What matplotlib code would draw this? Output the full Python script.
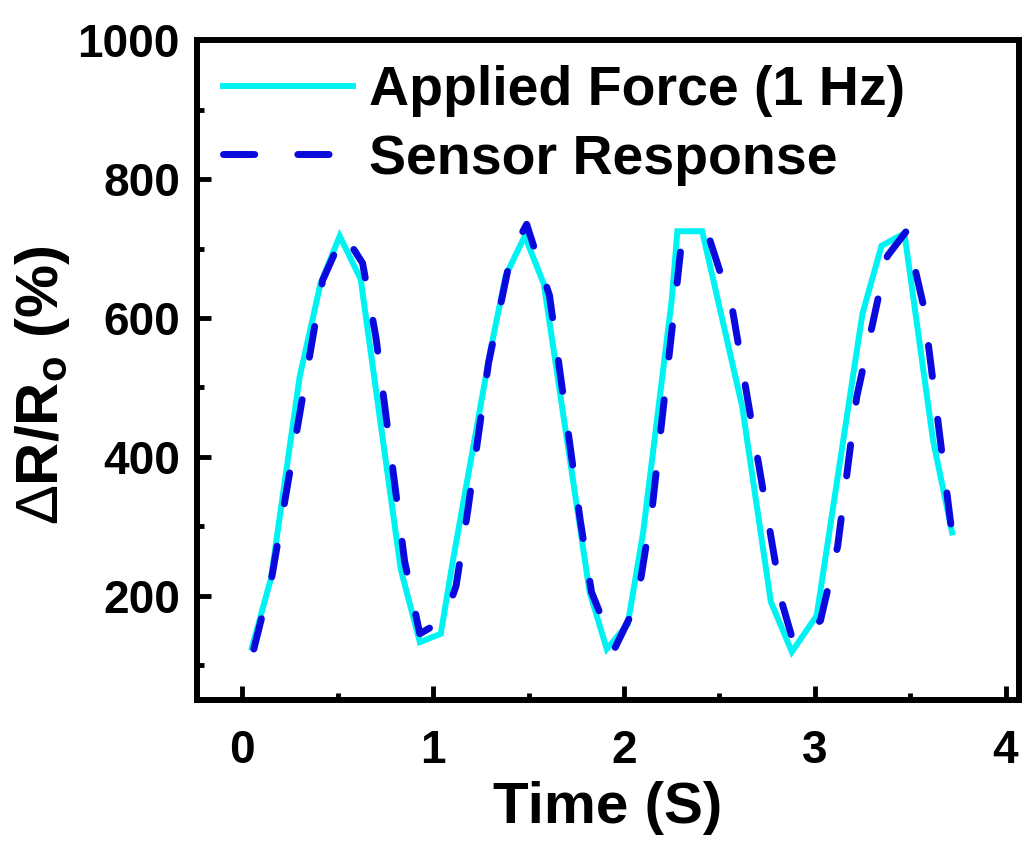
import numpy as np
import matplotlib
matplotlib.use("Agg")
import matplotlib.pyplot as plt
from matplotlib.ticker import MultipleLocator

# Applied force trace (1 Hz loading)
force_t = [0.05, 0.15, 0.30, 0.41, 0.51, 0.62, 0.83, 0.93, 1.04, 1.10, 1.30,
           1.38, 1.48, 1.58, 1.82, 1.91, 2.02, 2.10, 2.25, 2.28, 2.41, 2.62,
           2.77, 2.88, 3.01, 3.25, 3.35, 3.47, 3.62, 3.72]
force = [125, 225, 515, 650, 718, 656, 238, 133, 145, 245, 553,
         661, 718, 649, 205, 123, 159, 290, 625, 725, 725, 472,
         191, 119, 171, 606, 704, 722, 424, 291]

# Sensor resistance change
sensor_t = [0.06, 0.155, 0.42, 0.53, 0.63, 0.70, 0.85, 0.93, 1.06, 1.12, 1.18,
            1.29, 1.41, 1.49, 1.61, 1.77, 1.83, 1.95, 2.04, 2.09, 2.15, 2.28,
            2.30, 2.44, 2.57, 2.83, 2.89, 3.03, 3.12, 3.22, 3.38, 3.48, 3.57,
            3.72]
sensor = [123, 228, 654, 722, 679, 572, 250, 145, 166, 214, 320,
          535, 694, 735, 632, 310, 205, 123, 174, 227, 331, 654,
          705, 721, 610, 188, 131, 164, 271, 486, 689, 725, 618,
          288]

plt.rcParams['font.family'] = ['Liberation Sans', 'DejaVu Sans']
plt.rcParams['font.weight'] = 'bold'
plt.rcParams['mathtext.fontset'] = 'custom'
plt.rcParams['mathtext.rm'] = 'Liberation Sans:weight=normal'
plt.rcParams['mathtext.bf'] = 'Liberation Sans:weight=bold'

fig = plt.figure(figsize=(10.24, 8.41), dpi=100)
ax = fig.add_axes([0.192, 0.168, 0.803, 0.784])

ax.plot(force_t, force, color='#00F2F2', lw=4.3, solid_joinstyle='miter',
        label='Applied Force (1 Hz)')
ax.plot(sensor_t, sensor, color='#0A0ADC', lw=5, linestyle=(0, (4.5, 6.2)),
        dash_capstyle='round', label='Sensor Response')

ax.set_xlim(-0.24, 4.07)
ax.set_ylim(50, 1000)
ax.xaxis.set_major_locator(MultipleLocator(1))
ax.xaxis.set_minor_locator(MultipleLocator(0.5))
ax.yaxis.set_major_locator(MultipleLocator(200))
ax.yaxis.set_minor_locator(MultipleLocator(100))

for s in ax.spines.values():
    s.set_linewidth(4.3)
ax.tick_params(which='both', direction='in', width=3.5, top=False, right=False)
ax.tick_params(which='major', length=10, labelsize=33)
ax.tick_params(axis='x', which='major', pad=21)
ax.tick_params(axis='y', which='major', pad=12)
ax.tick_params(which='minor', length=5)

ax.set_xlabel('Time (S)', fontsize=42, fontweight='bold', labelpad=6)
ax.set_ylabel(r'$\mathrm{\Delta}$R/R$_\mathregular{o}$ (%)', fontsize=43,
              fontweight='bold')
ax.yaxis.set_label_coords(-0.152, 0.476)

ax.legend(loc='upper left', bbox_to_anchor=(0.032, 0.962), frameon=False,
          fontsize=40, handlelength=2.34, handletextpad=0.29,
          labelspacing=0.29, borderaxespad=0, borderpad=0)

fig.savefig('out.png', dpi=100)
